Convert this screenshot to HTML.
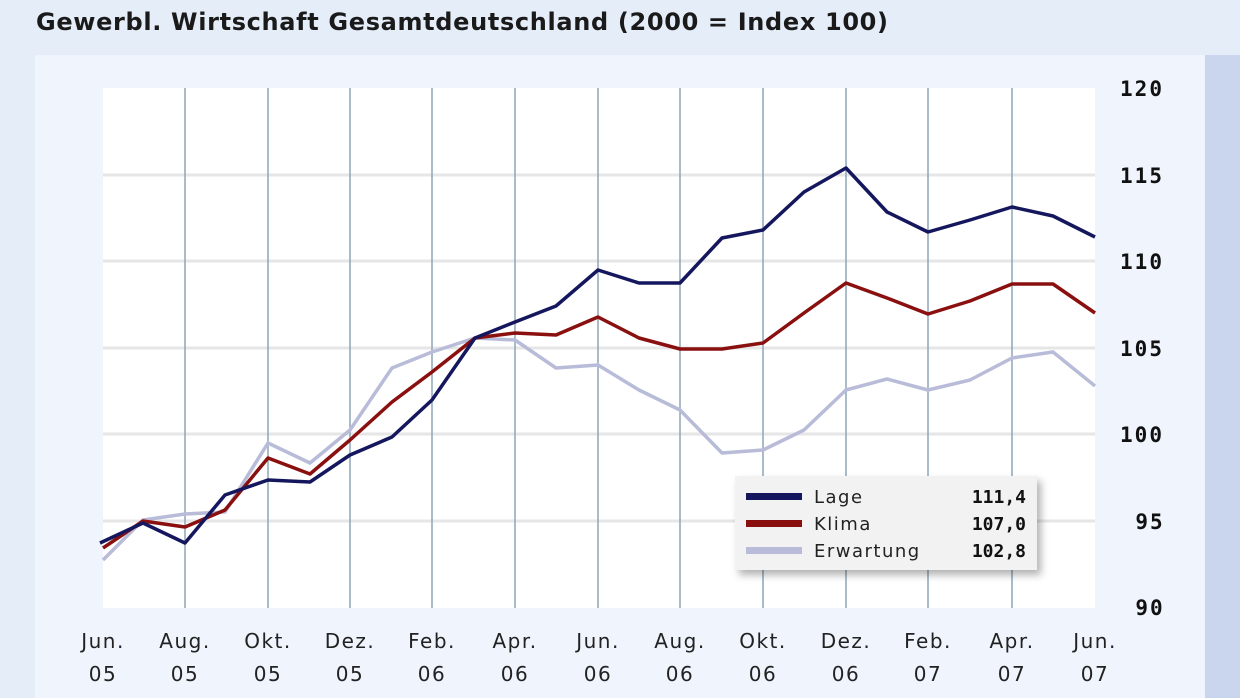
<!DOCTYPE html><html><head><meta charset="utf-8"><style>
body{margin:0;width:1240px;height:698px;background:#e5edf9;overflow:hidden;font-family:"Liberation Sans",sans-serif}
</style></head><body>
<svg width="1240" height="698" xmlns="http://www.w3.org/2000/svg" style="position:absolute;left:0;top:0">
<defs><filter id="sh" x="-10%" y="-10%" width="130%" height="140%"><feDropShadow dx="4" dy="5" stdDeviation="4" flood-color="#000" flood-opacity="0.3"/></filter></defs>
<text x="36" y="30" font-family="DejaVu Sans" font-weight="bold" font-size="24" fill="#1a1a1a" textLength="852">Gewerbl. Wirtschaft Gesamtdeutschland (2000 = Index 100)</text>
<rect x="35" y="55" width="1170" height="643" fill="#eff4fd"/>
<rect x="1205" y="55" width="35" height="643" fill="#c9d6ee"/>
<rect x="103" y="88" width="992" height="520" fill="#fff"/>
<g stroke="#e6e6e6" stroke-width="3">
<line x1="103" y1="175" x2="1095" y2="175"/><line x1="103" y1="261" x2="1095" y2="261"/><line x1="103" y1="348" x2="1095" y2="348"/><line x1="103" y1="434" x2="1095" y2="434"/><line x1="103" y1="521" x2="1095" y2="521"/>
</g>
<g stroke="#8ea5b8" stroke-width="1.5">
<line x1="185" y1="88" x2="185" y2="608"/><line x1="268" y1="88" x2="268" y2="608"/><line x1="350" y1="88" x2="350" y2="608"/><line x1="432" y1="88" x2="432" y2="608"/><line x1="515" y1="88" x2="515" y2="608"/><line x1="598" y1="88" x2="598" y2="608"/><line x1="680" y1="88" x2="680" y2="608"/><line x1="763" y1="88" x2="763" y2="608"/><line x1="846" y1="88" x2="846" y2="608"/><line x1="928" y1="88" x2="928" y2="608"/><line x1="1012" y1="88" x2="1012" y2="608"/>
</g>
<g fill="none" stroke-width="3.5" stroke-linejoin="round">
<polyline stroke="#b8bcd8" points="103,560 143,520 185,514 225,512 268,443 310,463 350,430 392,368 432,352 475,338 515,340 556,368 598,365 639,390 680,410 722,453 763,450 804,430 846,390 887,379 928,390 970,380 1012,358 1053,352 1095,386"/>
<polyline stroke="#8a1010" points="103,548 143,521 185,527 225,510 268,458 310,474 350,440 392,402 432,372 475,338 515,333 556,335 598,317 639,338 680,349 722,349 763,343 804,313 846,283 887,298 928,314 970,301 1012,284 1053,284 1095,313"/>
<polyline stroke="#15175e" points="100,543 143,523 185,543 225,495 268,480 310,482 350,455 392,437 432,400 475,338 515,322 556,306 598,270 639,283 680,283 722,238 763,230 804,192 846,168 887,212 928,232 970,220 1012,207 1053,216 1095,237"/>
</g>
<rect x="735" y="476" width="302" height="94" fill="#f2f2f2" filter="url(#sh)"/>
<rect x="746" y="493" width="56" height="7" fill="#15175e"/>
<rect x="746" y="520" width="56" height="7" fill="#8a1010"/>
<rect x="746" y="547" width="56" height="7" fill="#b8bcd8"/>
<g font-family="DejaVu Sans" font-size="18" fill="#222" letter-spacing="1.5">
<text x="814" y="503">Lage</text><text x="814" y="530">Klima</text><text x="814" y="557">Erwartung</text>
</g>
<g font-family="DejaVu Sans Mono" font-weight="bold" font-size="18" fill="#111" text-anchor="end">
<text x="1026" y="503">111,4</text><text x="1026" y="530">107,0</text><text x="1026" y="557">102,8</text>
</g>
<g font-family="DejaVu Sans Mono" font-weight="bold" font-size="21" fill="#111" text-anchor="middle" letter-spacing="2">
<text x="1142" y="96">120</text><text x="1142" y="183">115</text><text x="1142" y="269">110</text><text x="1142" y="356">105</text><text x="1142" y="442">100</text><text x="1150" y="529">95</text><text x="1150" y="615">90</text>
</g>
<g font-family="DejaVu Sans" font-size="20" fill="#222" text-anchor="middle" letter-spacing="1.5">
<text x="103" y="648">Jun.</text><text x="103" y="681">05</text>
<text x="185" y="648">Aug.</text><text x="185" y="681">05</text>
<text x="268" y="648">Okt.</text><text x="268" y="681">05</text>
<text x="350" y="648">Dez.</text><text x="350" y="681">05</text>
<text x="432" y="648">Feb.</text><text x="432" y="681">06</text>
<text x="515" y="648">Apr.</text><text x="515" y="681">06</text>
<text x="598" y="648">Jun.</text><text x="598" y="681">06</text>
<text x="680" y="648">Aug.</text><text x="680" y="681">06</text>
<text x="763" y="648">Okt.</text><text x="763" y="681">06</text>
<text x="846" y="648">Dez.</text><text x="846" y="681">06</text>
<text x="928" y="648">Feb.</text><text x="928" y="681">07</text>
<text x="1012" y="648">Apr.</text><text x="1012" y="681">07</text>
<text x="1095" y="648">Jun.</text><text x="1095" y="681">07</text>
</g>
</svg>
</body></html>
